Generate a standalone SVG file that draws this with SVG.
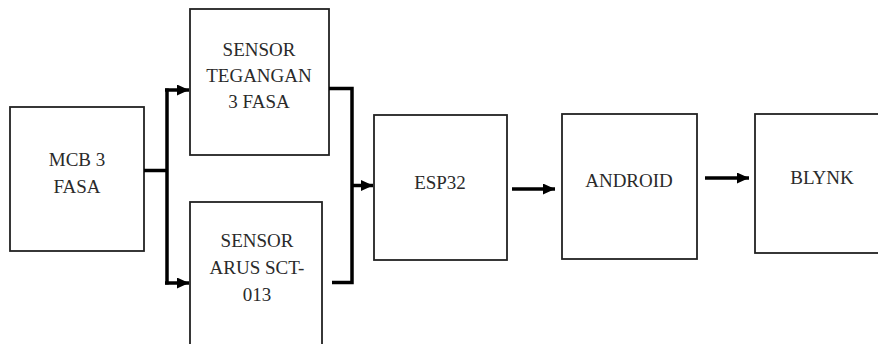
<svg xmlns="http://www.w3.org/2000/svg" width="878" height="344" viewBox="0 0 878 344">
<style>
.box{fill:#fff;stroke:#222;stroke-width:1.8}
.lbl{font-family:"Liberation Serif","DejaVu Serif","Times New Roman",Times,serif;font-size:19px;fill:#2a2a2a;text-anchor:middle}
.wire{fill:none;stroke:#000;stroke-width:3.5}
</style>
<defs>
<marker id="ah" markerUnits="userSpaceOnUse" markerWidth="12" markerHeight="11" refX="12" refY="5.5" orient="auto">
<path d="M0,0 L12,5.5 L0,11 Z" fill="#000"/>
</marker>
</defs>
<rect width="878" height="344" fill="#fff"/>
<g id="mcb">
<rect class="box" x="10" y="107" width="134" height="144"/>
<text class="lbl" x="77" y="166">MCB 3</text>
<text class="lbl" x="77" y="193">FASA</text>
</g>
<g id="sensor-tegangan">
<rect class="box" x="190" y="9" width="139" height="146"/>
<text class="lbl" x="259" y="56">SENSOR</text>
<text class="lbl" x="259" y="82">TEGANGAN</text>
<text class="lbl" x="259" y="108">3 FASA</text>
</g>
<g id="sensor-arus">
<rect class="box" x="190" y="202" width="132" height="150"/>
<text class="lbl" x="257" y="247">SENSOR</text>
<text class="lbl" x="257" y="274">ARUS SCT-</text>
<text class="lbl" x="257" y="301">013</text>
</g>
<g id="esp32">
<rect class="box" x="374" y="115" width="133" height="145"/>
<text class="lbl" x="440" y="189">ESP32</text>
</g>
<g id="android">
<rect class="box" x="562" y="114" width="135" height="145"/>
<text class="lbl" x="629" y="187">ANDROID</text>
</g>
<g id="blynk">
<rect class="box" x="755" y="114" width="130" height="139"/>
<text class="lbl" x="822" y="184">BLYNK</text>
</g>
<g id="connectors">
<path class="wire" d="M144,170.5 H167" stroke-width="6"/>
<path class="wire" d="M167,88.5 V284.5" stroke-width="4"/>
<path class="wire" d="M165,90 H189" marker-end="url(#ah)"/>
<path class="wire" d="M165,283 H189" marker-end="url(#ah)"/>
<path class="wire" d="M329,88.5 H352 V282.5 H332" stroke-width="4" stroke-linejoin="miter"/>
<path class="wire" d="M352,185.5 H373" marker-end="url(#ah)"/>
<path class="wire" d="M512,189 H555" marker-end="url(#ah)"/>
<path class="wire" d="M705,178 H749" marker-end="url(#ah)"/>
</g>
</svg>
